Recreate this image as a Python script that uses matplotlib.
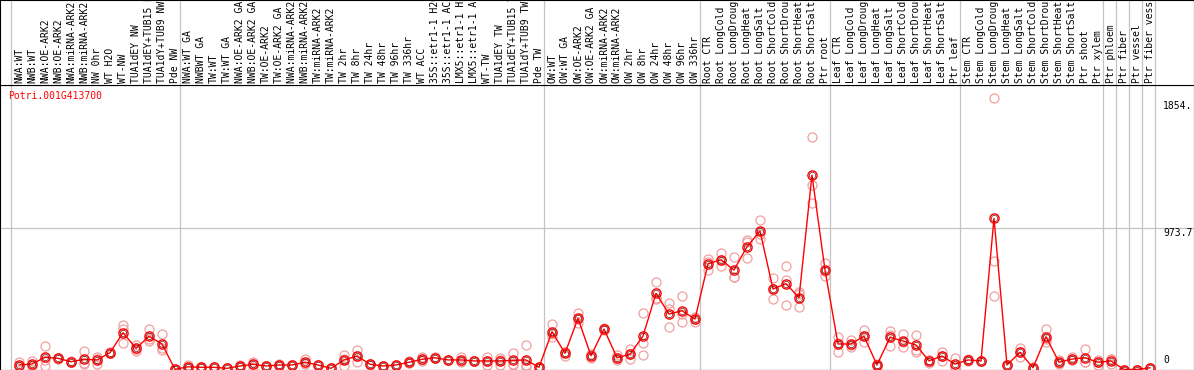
import matplotlib
matplotlib.use("Agg")
import matplotlib.pyplot as plt
import matplotlib.transforms as mtransforms
import numpy as np

# sample names (column headers)
samples = [
    "NWA:WT", "NWB:WT", "NWA:OE-ARK2", "NWB:OE-ARK2", "NWA:miRNA-ARK2", "NWB:miRNA-ARK2",
    "NW 0hr", "WT H2O", "WT-NW", "TUA1dEY NW", "TUA1dEY+TUB15 NW", "TUA1dY+TUB9 NW", "Pde NW",
    "NWA:WT GA", "NWBWT GA", "TW:WT", "TW:WT GA", "NWA:OE-ARK2 GA", "NWB:OE-ARK2 GA",
    "TW:OE-ARK2", "TW:OE-ARK2 GA", "NWA:miRNA-ARK2 GA", "NWB:miRNA-ARK2 GA", "TW:miRNA-ARK2",
    "TW:miRNA-ARK2", "TW 2hr", "TW 8hr", "TW 24hr", "TW 48hr", "TW 96hr", "TW 336hr", "WT ACC",
    "35S::etr1-1 H2O", "35S::etr1-1 ACC", "LMX5::etr1-1 H2O", "LMX5::etr1-1 ACC", "WT-TW",
    "TUA1dEY TW", "TUA1dEY+TUB15 TW", "TUA1dY+TUB9 TW", "Pde TW",
    "OW:WT", "OW:WT GA", "OW:OE-ARK2", "OW:OE-ARK2 GA", "OW:miRNA-ARK2", "OW:miRNA-ARK2",
    "OW 2hr", "OW 8hr", "OW 24hr", "OW 48hr", "OW 96hr", "OW 336hr",
    "Root CTR", "Root LongCold", "Root LongDrought", "Root LongHeat", "Root LongSalt",
    "Root ShortCold", "Root ShortDrought", "Root ShortHeat", "Root ShortSalt", "Ptr root",
    "Leaf CTR", "Leaf LongCold", "Leaf LongDrought", "Leaf LongHeat", "Leaf LongSalt",
    "Leaf ShortCold", "Leaf ShortDrought", "Leaf ShortHeat", "Leaf ShortSalt", "Ptr leaf",
    "Stem CTR", "Stem LongCold", "Stem LongDrought", "Stem LongHeat", "Stem LongSalt",
    "Stem ShortCold", "Stem ShortDrought", "Stem ShortHeat", "Stem ShortSalt", "Ptr shoot",
    "Ptr xylem", "Ptr phloem", "Ptr fiber", "Ptr vessel", "Ptr fiber vessel",
]

# mean expression per sample
means = [
    31, 38, 84, 77, 54, 70, 66, 116, 254, 146, 229, 176, 1,
    19, 15, 15, 8, 24, 36, 24, 31, 31, 50, 31, 8, 66, 93, 36, 24, 31, 50, 70, 81,
    66, 66, 59, 59, 59, 63, 66, 15,
    261, 112, 353, 95, 279, 81, 105, 231, 525, 383, 405, 348,
    730, 757, 686, 847, 955, 555, 592, 495, 1341, 686,
    176, 176, 230, 31, 222, 197, 169, 59, 93, 37,
    66, 59, 1043, 31, 119, 12, 226, 50, 72, 81, 50,
    59, 0, 0, 12,
]

# replicates
rep_a = [
    54, 59, 162, 80, 50, 128, 70, 116, 305, 169, 277, 245, 0,
    31, 15, 15, 8, 24, 54, 24, 36, 31, 70, 31, 8, 100, 134, 36, 24, 31, 61, 84, 88,
    66, 84, 59, 61, 81, 112, 169, 19,
    312, 123, 392, 105, 285, 77, 139, 387, 601, 456, 507, 364,
    760, 801, 778, 881, 1031, 629, 714, 537, 1601, 732,
    226, 203, 272, 38, 268, 245, 238, 47, 123, 77,
    66, 59, 1870, 31, 150, 19, 277, 66, 88, 139, 66,
    72, 0, 0, 12,
]
rep_b = [
    24, 24, 66, 75, 58, 47, 40, 120, 181, 130, 199, 135, 0,
    15, 12, 15, 8, 20, 36, 24, 31, 31, 43, 31, 8, 24, 54, 40, 24, 31, 45, 62, 78,
    66, 61, 59, 31, 28, 38, 31, 12,
    226, 93, 318, 77, 275, 66, 70, 185, 484, 415, 383, 330,
    686, 716, 640, 767, 898, 484, 615, 429, 1270, 645,
    119, 153, 188, 31, 162, 153, 134, 65, 61, 19,
    70, 59, 750, 31, 88, 8, 192, 43, 64, 54, 31,
    36, 0, 0, 12,
]
rep_c = [
    15, 31, 24, 77, 54, 38, 88, 112, 276, 139, 211, 148, 3,
    11, 18, 15, 8, 28, 18, 24, 26, 31, 37, 31, 8, 74, 91, 32, 24, 31, 44, 64, 77,
    66, 53, 59, 85, 68, 31, 19, 15,
    245, 120, 349, 103, 277, 100, 106, 100, 490, 295, 328, 350,
    740, 754, 640, 893, 936, 552, 445, 519, 1146, 681,
    183, 172, 230, 24, 236, 193, 123, 65, 95, 15,
    62, 59, 507, 31, 119, 9, 209, 41, 64, 50, 53,
    69, 0, 0, 12,
]

gene = "Potri.001G413700"
tick_vals = [1854.3, 973.7, 0]
tick_text = ["1854.", "973.7", "0"]
# last column index of each block (separator drawn after it)
block_ends = [-1, 12, 40, 52, 62, 72, 83, 84, 85, 86, 87]

W, H = 1194, 370
fig = plt.figure(figsize=(W / 100, H / 100), dpi=100)
mono = "DejaVu Sans Mono"

x = np.arange(len(samples))
xlim = (-19 / 13, (W - 19) / 13)

# main plot area
ax = fig.add_axes([0, 0.5 / H, 1, 284.5 / H])
ax.set_xlim(*xlim)
ax.set_ylim(0, 284.5 * 6.896)
ax.set_xticks([])
ax.set_yticks([])
for s in ax.spines.values():
    s.set_linewidth(0.8)
    s.set_color("black")

for b in block_ends:
    ax.axvline(b + 0.4, color="#c4c4c4", lw=0.9, zorder=1)
ax.axhline(973.7, color="#c4c4c4", lw=0.9, zorder=1)

for reps in (rep_a, rep_b, rep_c):
    ax.plot(x, reps, "o", ms=6.5, mfc="none", mec="#f0a0a0", mew=0.9, zorder=2)

ax.plot(x, means, "-", color="red", lw=1.0, zorder=3)
ax.plot(x, means, "o", ms=6.6, mfc="none", mec="red", mew=1.0, zorder=4)
ax.plot(x, means, "o", ms=4.6, mfc="none", mec="#600000", mew=0.45, zorder=4)

ax.text(8 / W, 1 - 6 / 284.5, gene, transform=ax.transAxes, color="red",
        fontsize=7, family=mono, va="top", ha="left")

trans = mtransforms.blended_transform_factory(ax.transAxes, ax.transData)
for v, t in zip(tick_vals, tick_text):
    if v == 0:
        ax.text(1163 / W, v + 30, t, transform=trans, fontsize=7, family=mono,
                va="bottom", ha="left")
    else:
        ax.text(1163 / W, v, t, transform=trans, fontsize=7, family=mono,
                va="top", ha="left")

# header with rotated sample names
hax = fig.add_axes([0, 285 / H, 1, 85 / H])
hax.set_xlim(*xlim)
hax.set_ylim(0, 85)
hax.set_xticks([])
hax.set_yticks([])
for s in hax.spines.values():
    s.set_linewidth(0.8)
    s.set_color("black")
for b in block_ends:
    hax.axvline(b + 0.4, color="#c4c4c4", lw=0.9, zorder=1)
for i, name in enumerate(samples):
    hax.text(i, 2, name, rotation=90, ha="center", va="bottom", fontsize=7,
             family=mono, clip_on=True)

fig.savefig("out.png", dpi=100)
